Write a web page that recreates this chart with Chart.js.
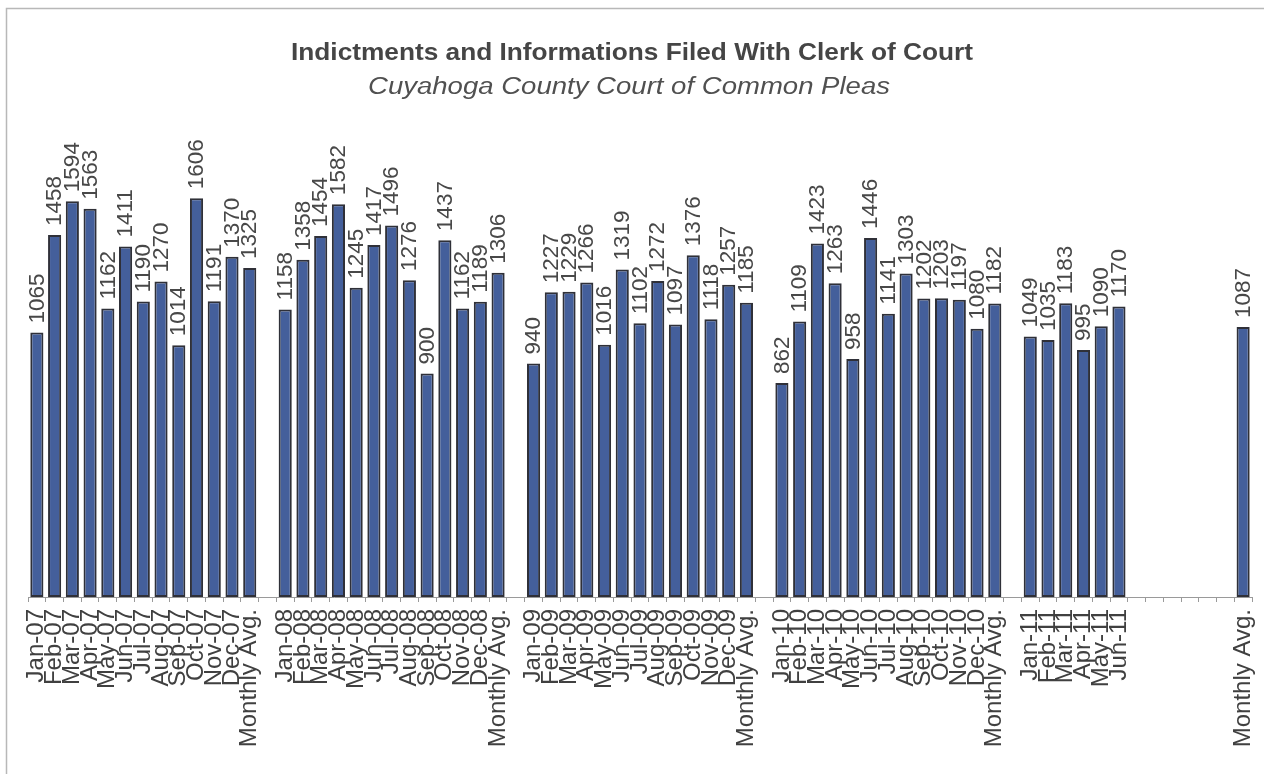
<!DOCTYPE html>
<html>
<head>
<meta charset="utf-8">
<script src="https://cdn.jsdelivr.net/npm/chart.js@4"></script>
<style>
  html, body { margin: 0; padding: 0; background: #ffffff; }
  #wrap { position: relative; width: 1264px; height: 774px; }
  canvas { display: block; }
</style>
</head>
<body>
<div id="wrap"><canvas id="c" width="1264" height="774"></canvas></div>
<script>
// ---- Data ----
const labels2007 = ['Jan-07','Feb-07','Mar-07','Apr-07','May-07','Jun-07','Jul-07','Aug-07','Sep-07','Oct-07','Nov-07','Dec-07','Monthly Avg.'];
const values2007 = [1065,1458,1594,1563,1162,1411,1190,1270,1014,1606,1191,1370,1325];
const labels2008 = ['Jan-08','Feb-08','Mar-08','Apr-08','May-08','Jun-08','Jul-08','Aug-08','Sep-08','Oct-08','Nov-08','Dec-08','Monthly Avg.'];
const values2008 = [1158,1358,1454,1582,1245,1417,1496,1276,900,1437,1162,1189,1306];
const labels2009 = ['Jan-09','Feb-09','Mar-09','Apr-09','May-09','Jun-09','Jul-09','Aug-09','Sep-09','Oct-09','Nov-09','Dec-09','Monthly Avg.'];
const values2009 = [940,1227,1229,1266,1016,1319,1102,1272,1097,1376,1118,1257,1185];
const labels2010 = ['Jan-10','Feb-10','Mar-10','Apr-10','May-10','Jun-10','Jul-10','Aug-10','Sep-10','Oct-10','Nov-10','Dec-10','Monthly Avg.'];
const values2010 = [862,1109,1423,1263,958,1446,1141,1303,1202,1203,1197,1080,1182];
const labels2011 = ['Jan-11','Feb-11','Mar-11','Apr-11','May-11','Jun-11','','','','','','','Monthly Avg.'];
const values2011 = [1049,1035,1183,995,1090,1170,null,null,null,null,null,null,1087];
const gapLabel = [''];
const gapValue = [null];

const titleText = 'Indictments and Informations Filed With Clerk of Court';
const subtitleText = 'Cuyahoga County Court of Common Pleas';

const categories = [].concat(labels2007, gapLabel, labels2008, gapLabel, labels2009, gapLabel, labels2010, gapLabel, labels2011);
const seriesValues = [].concat(values2007, gapValue, values2008, gapValue, values2009, gapValue, values2010, gapValue, values2011);

// ---- Plugins ----
const framePlugin = {
  id: 'frame',
  beforeDraw(chart) {
    const ctx = chart.ctx;
    ctx.save();
    ctx.fillStyle = '#ffffff';
    ctx.fillRect(0, 0, chart.width, chart.height);
    ctx.strokeStyle = '#b8b8b8';
    ctx.lineWidth = 1.5;
    ctx.beginPath();
    ctx.moveTo(6.5, chart.height + 5);
    ctx.lineTo(6.5, 8.5);
    ctx.lineTo(chart.width + 5, 8.5);
    ctx.stroke();
    ctx.restore();
  }
};

function drawFitted(ctx, text, font, cx, baseline, targetW, color) {
  ctx.save();
  ctx.font = font;
  const w = ctx.measureText(text).width;
  const s = targetW / w;
  ctx.translate(cx, baseline);
  ctx.scale(s, 1);
  ctx.fillStyle = color;
  ctx.textAlign = 'center';
  ctx.textBaseline = 'alphabetic';
  ctx.fillText(text, 0, 0);
  ctx.restore();
}

const titlePlugin = {
  id: 'titles',
  afterDraw(chart) {
    const ctx = chart.ctx;
    drawFitted(ctx, titleText, 'bold 24px "Liberation Sans", Arial, sans-serif', 632, 60, 682, '#454545');
    drawFitted(ctx, subtitleText, 'italic 23px "Liberation Sans", Arial, sans-serif', 629, 94, 522, '#505050');
  }
};

const valueLabelPlugin = {
  id: 'valueLabels',
  afterDatasetsDraw(chart) {
    const ctx = chart.ctx;
    const meta = chart.getDatasetMeta(0);
    const data = chart.data.datasets[0].data;
    ctx.save();
    ctx.font = '22.5px "Liberation Sans", Arial, sans-serif';
    ctx.fillStyle = '#484848';
    ctx.textAlign = 'left';
    ctx.textBaseline = 'middle';
    meta.data.forEach((bar, i) => {
      const v = data[i];
      if (v === null || v === undefined) return;
      ctx.save();
      ctx.translate(bar.x + 0.5, bar.y - 9);
      ctx.rotate(-Math.PI / 2);
      ctx.fillText(String(v), 0, 0);
      ctx.restore();
    });
    ctx.restore();
  }
};

new Chart(document.getElementById('c'), {
  type: 'bar',
  data: {
    labels: categories,
    datasets: [{
      data: seriesValues,
      backgroundColor: '#445f9b',
      borderColor: '#2f3038',
      borderWidth: 2,
      borderSkipped: false,
      categoryPercentage: 1.0,
      barPercentage: 0.74
    }]
  },
  options: {
    responsive: false,
    animation: false,
    devicePixelRatio: 1,
    layout: { padding: { top: 150, left: 28, right: 12, bottom: 0 } },
    plugins: {
      legend: { display: false },
      title: { display: false },
      tooltip: { enabled: false }
    },
    scales: {
      x: {
        offset: true,
        grid: {
          offset: true,
          drawOnChartArea: false,
          drawTicks: true,
          tickLength: 5,
          color: '#9a9a9a'
        },
        border: { display: true, color: '#9a9a9a', width: 1 },
        ticks: {
          autoSkip: false,
          maxRotation: 90,
          minRotation: 90,
          padding: 7,
          color: '#404040',
          font: { family: '"Liberation Sans", Arial, sans-serif', size: 24 }
        },
        afterFit(scale) {
          scale.height = 177;
          scale.paddingLeft = 0;
          scale.paddingRight = 0;
        }
      },
      y: {
        display: false,
        min: 0,
        max: 1800
      }
    }
  },
  plugins: [framePlugin, valueLabelPlugin, titlePlugin]
});
</script>
</body>
</html>
